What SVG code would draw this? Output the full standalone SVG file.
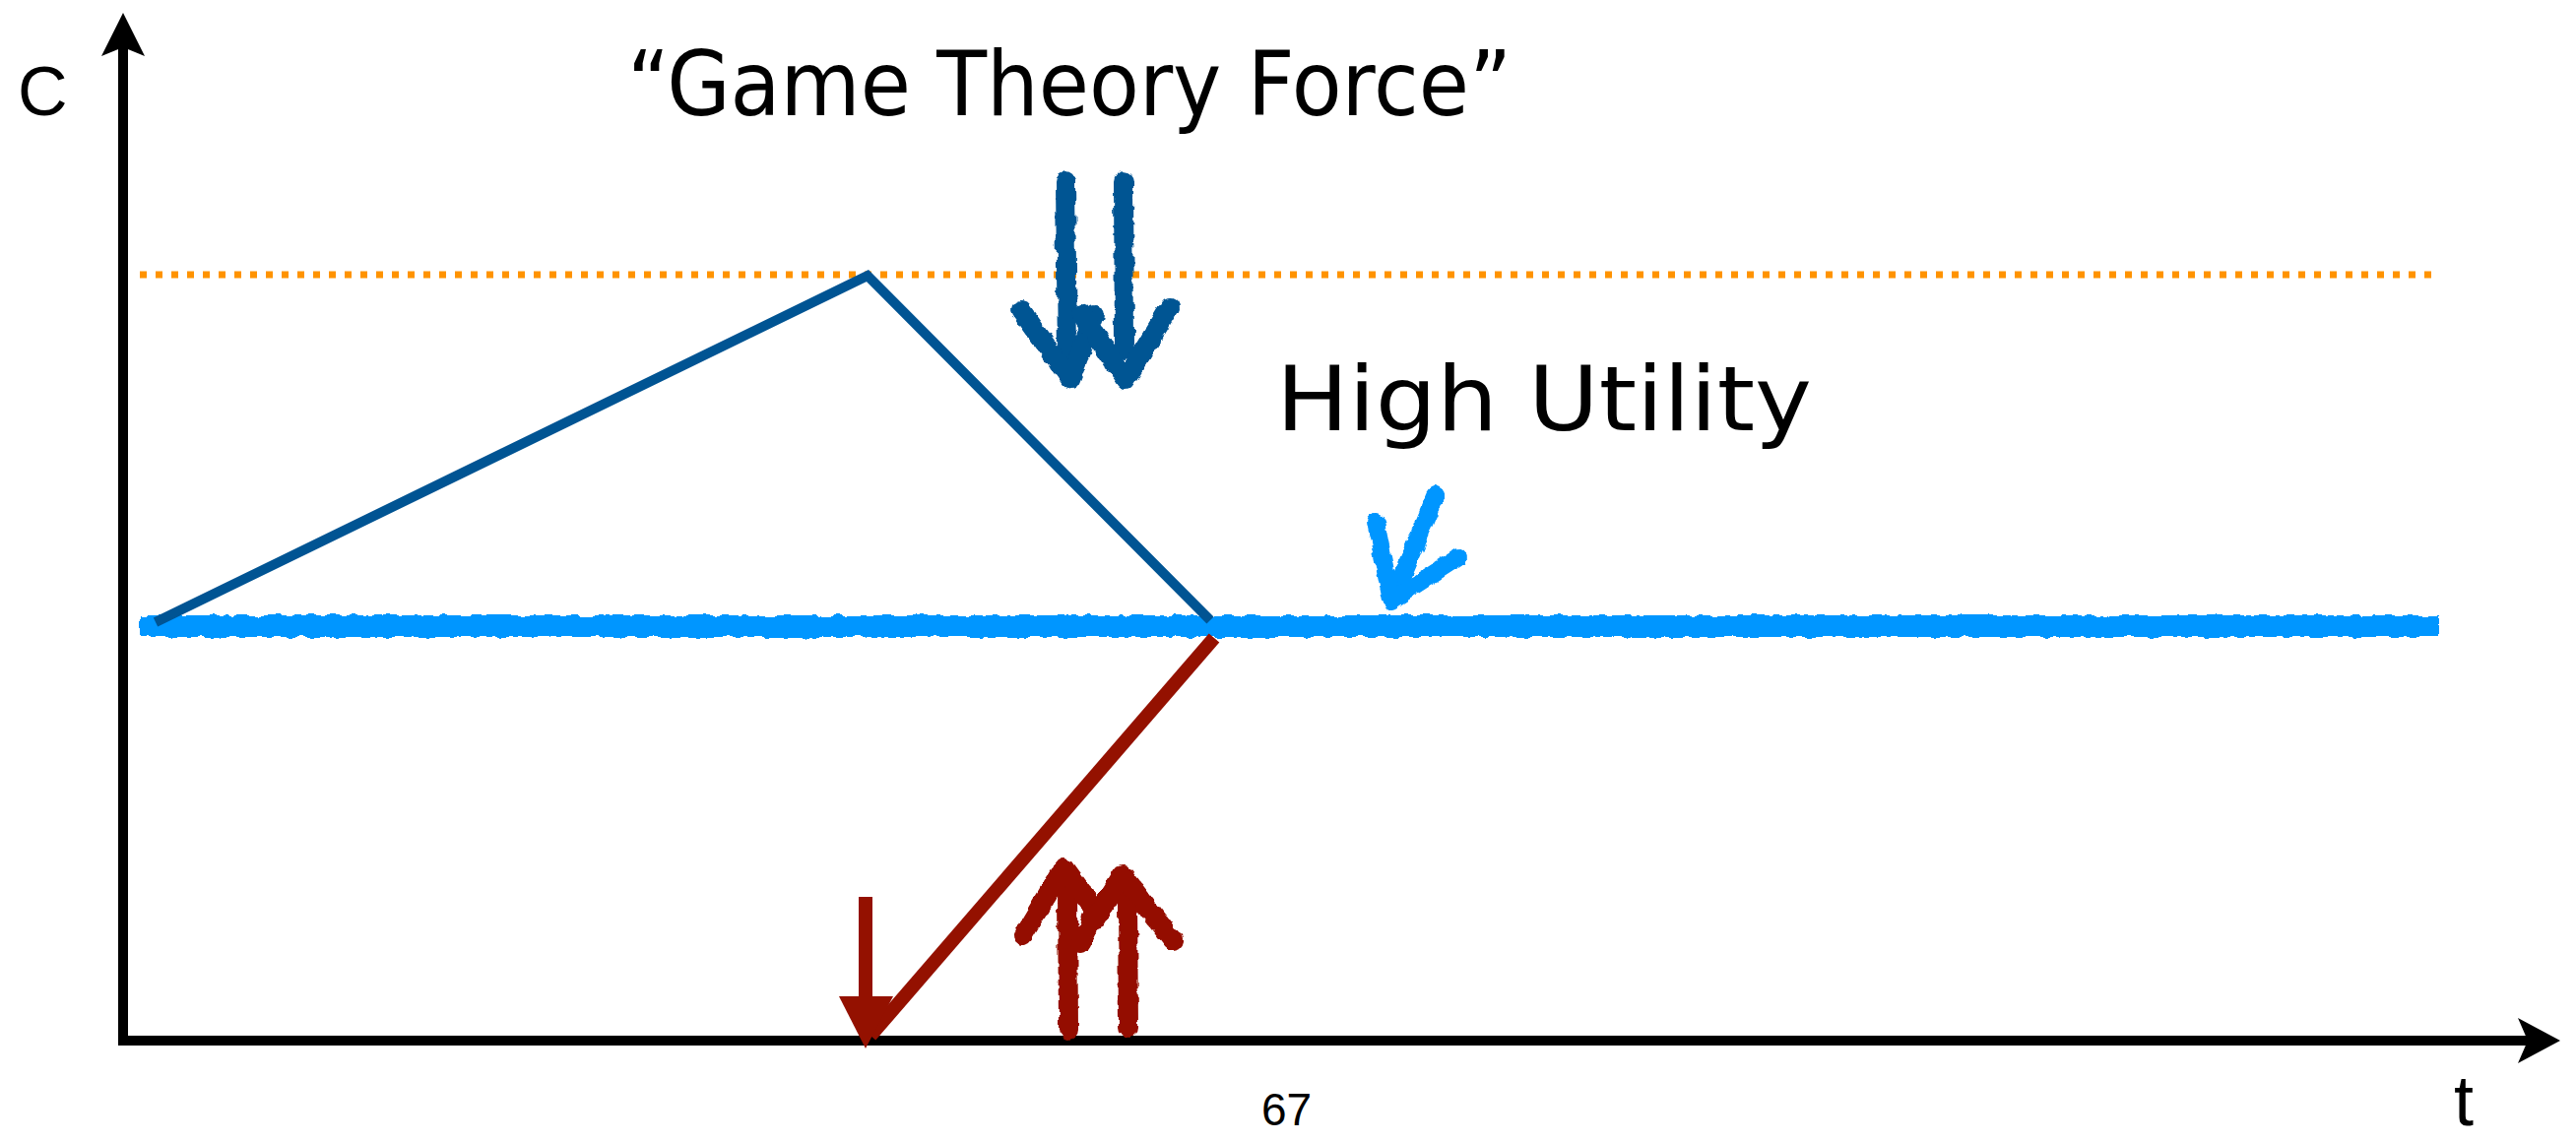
<svg xmlns="http://www.w3.org/2000/svg" width="2616" height="1160" viewBox="0 0 2616 1160">
<style>
.lbl{font-family:"Liberation Sans",Arial,sans-serif;fill:#000}
.hand{font-family:"DejaVu Sans","Liberation Sans",sans-serif;fill:#000}
.axis{stroke:#000;stroke-width:10;fill:none}
.sketch{fill:none;stroke-linecap:round;stroke-linejoin:round}
</style>
<defs>
<filter id="rough" filterUnits="userSpaceOnUse" x="0" y="0" width="2616" height="1160">
<feTurbulence type="fractalNoise" baseFrequency="0.09" numOctaves="2" seed="4" result="n"/>
<feDisplacementMap in="SourceGraphic" in2="n" scale="7" xChannelSelector="R" yChannelSelector="G"/>
</filter>
</defs>
<rect width="2616" height="1160" fill="#fff"/>
<g id="axes">
<line class="axis" x1="125" y1="45" x2="125" y2="1062"/>
<polygon points="125,13 147,57 125,48 103,57" fill="#000"/>
<line class="axis" x1="120" y1="1057" x2="2570" y2="1057"/>
<polygon points="2600,1057 2557,1080 2567,1057 2557,1034" fill="#000"/>
<text class="lbl" x="18" y="117" font-size="70">C</text>
<text class="lbl" x="2492" y="1143" font-size="72">t</text>
<text class="lbl" x="1281" y="1143" font-size="46">67</text>
</g>
<g id="connectors">
<line x1="142" y1="279" x2="2469" y2="279" stroke="#FF9300" stroke-width="7" stroke-dasharray="7 9"/>
<line x1="142" y1="636" x2="2477" y2="636" stroke="#0096FF" stroke-width="22" filter="url(#rough)"/>
<polyline points="158,632 881,280 1229,630" fill="none" stroke="#005493" stroke-width="10"/>
<line x1="1233" y1="648" x2="884" y2="1052" stroke="#941100" stroke-width="14"/>
<rect x="872" y="911" width="14" height="102" fill="#941100"/>
<polygon points="852,1012 907,1012 879,1065" fill="#941100"/>
</g>
<g id="game-theory-arrows" filter="url(#rough)">
<g class="sketch" stroke="#005493" stroke-width="20">
<line x1="1082" y1="184" x2="1084" y2="362"/>
<line x1="1141" y1="184" x2="1142" y2="355"/>
<polyline points="1037,315 1087,385 1112,320"/>
<polyline points="1098,318 1143,386 1188,312"/>
</g>
</g>
<g id="high-utility-arrow" filter="url(#rough)">
<g class="sketch" stroke="#0096FF" stroke-width="18">
<line x1="1458" y1="503" x2="1414" y2="608"/>
<polyline points="1397,530 1413,610 1481,566"/>
</g>
</g>
<g id="low-arrows" filter="url(#rough)">
<g class="sketch" stroke="#941100" stroke-width="20">
<line x1="1085" y1="1046" x2="1084" y2="905"/>
<line x1="1146" y1="1044" x2="1145" y2="915"/>
<polyline points="1039,950 1080,881 1112,925 1098,958"/>
<polyline points="1112,935 1140,889 1191,955"/>
</g>
</g>
<g id="title">
<text class="hand" x="637" y="117" font-size="90" textLength="898" lengthAdjust="spacingAndGlyphs">“Game Theory Force”</text>
</g>
<g id="high-utility">
<text class="hand" x="1296" y="437" font-size="90" textLength="544" lengthAdjust="spacingAndGlyphs">High Utility</text>
</g>
</svg>
